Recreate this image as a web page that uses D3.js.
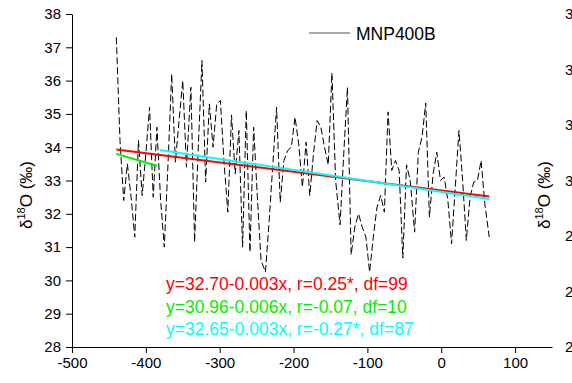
<!DOCTYPE html>
<html>
<head>
<meta charset="utf-8">
<script src="https://cdn.jsdelivr.net/npm/d3@7"></script>
<style>
  html, body { margin: 0; padding: 0; background: #fff; overflow: hidden; }
  svg { display: block; font-family: "Liberation Sans", Arial, sans-serif; }
</style>
</head>
<body>
<svg id="chart" width="572" height="383"></svg>
<script>
// years (x) and d18O values of the MNP400B record
var years = [
  -440,-435,-430,-425,-420,-415,-410,-405,-400,-395,-390,-385,-380,-375,-370,-365,-360,-355,-350,-345,
  -339,-334,-329,-324,-319,-314,-309,-304,-299,-294,-289,-284,-279,-274,-269,-264,-259,-254,-249,-244,
  -238,-233,-228,-223,-218,-213,-208,-203,-198,-193,-188,-183,-178,-173,-168,-163,-158,-153,-148,-143,
  -137,-132,-127,-122,-117,-112,-107,-102,-97,-92,-87,-82,-77,-72,-67,-62,-57,-52,-47,-42,
  -36,-31,-26,-21,-16,-11,-6,-1,4,9,14,19,24,29,34,39,44,49,54,59,
  65
];
var d18O = [
  37.3,34.2,32.4,33.5,32.5,31.3,34.2,32.55,33.8,35.2,32.5,34.6,32.4,31.0,33.5,36.2,33.55,34.8,36.0,33.4,
  35.8,31.15,34.0,36.6,32.95,35.3,34.0,35.3,35.4,33.5,32.05,34.97,33.2,34.5,31.0,35.1,30.85,34.6,32.5,30.6,
  30.25,31.8,33.5,35.2,32.35,33.6,33.9,34.0,34.9,34.1,32.8,34.15,32.55,33.8,34.8,34.6,34.0,33.47,36.23,33.0,
  31.67,33.8,35.8,30.77,31.6,32.0,31.6,31.3,30.25,31.3,32.2,32.55,32.05,35.06,33.3,33.6,33.3,30.67,33.47,33.0,
  31.45,33.85,34.3,35.33,31.9,33.2,33.85,33.0,33.1,32.4,31.1,32.8,34.5,33.0,31.2,32.5,32.95,33.0,33.6,32.3,
  31.3
];

// linear fits
var fitColors     = ["#ff0000", "#00ee00", "#00ffff"];
var fitIntercepts = [32.70, 30.94, 32.656];
var fitSlopes     = [-0.0028, -0.0065, -0.0033];
var fitFrom       = [-440, -440, -381];
var fitTo         = [65, -385, 65];
var fitLabels = [
  "y=32.70-0.003x, r=0.25*, df=99",
  "y=30.96-0.006x, r=-0.07, df=10",
  "y=32.65-0.003x, r=-0.27*, df=87"
];

var xTicks = [-500, -400, -300, -200, -100, 0, 100];
var xMinor = [-450, -350, -250, -150, -50, 50, 150];
var yTicks = [28, 29, 30, 31, 32, 33, 34, 35, 36, 37, 38];
var yMinor = [28.5, 29.5, 30.5, 31.5, 32.5, 33.5, 34.5, 35.5, 36.5, 37.5];
// tick labels of the neighbouring panel (cut off at the right edge)
var nextTicks = [24, 26, 28, 30, 32, 34, 36];

var svg = d3.select("#chart");

var x = d3.scaleLinear().domain([-500, 150]).range([72, 552]);
var y = d3.scaleLinear().domain([28, 38]).range([347, 14]);
var yNext = d3.scaleLinear().domain([24, 36]).range([347, 14]);

var plain = function(d) { return String(d); }; // hyphen minus, like the original

// axes
var gx = svg.append("g").attr("transform", "translate(0,347)");
gx.call(d3.axisBottom(x).tickValues(xMinor).tickSize(4).tickFormat("").tickSizeOuter(0));
gx.call(d3.axisBottom(x).tickValues(xTicks).tickSize(6).tickSizeOuter(0).tickPadding(4).tickFormat(plain));

var gy = svg.append("g").attr("transform", "translate(72,0)");
gy.call(d3.axisLeft(y).tickValues(yMinor).tickSize(4).tickFormat("").tickSizeOuter(0));
gy.call(d3.axisLeft(y).tickValues(yTicks).tickSize(6).tickSizeOuter(0).tickPadding(5).tickFormat(plain));

svg.selectAll(".tick text")
  .attr("font-size", 15)
  .attr("font-family", "Liberation Sans, Arial, sans-serif")
  .attr("fill", "#000");
svg.selectAll(".domain, .tick line").attr("stroke", "#000");

// data line
var line = d3.line()
  .x(function(d, i) { return x(years[i]); })
  .y(function(d) { return y(d); });

svg.append("path")
  .datum(d18O)
  .attr("d", line)
  .attr("fill", "none")
  .attr("stroke", "#000")
  .attr("stroke-width", 1)
  .attr("stroke-dasharray", "7,3");

// fitted lines
fitColors.forEach(function(c, k) {
  var f = function(v) { return fitIntercepts[k] + fitSlopes[k] * v; };
  svg.append("line")
    .attr("x1", x(fitFrom[k])).attr("y1", y(f(fitFrom[k])))
    .attr("x2", x(fitTo[k])).attr("y2", y(f(fitTo[k])))
    .attr("stroke", c)
    .attr("stroke-width", 2);
});

// fit labels
fitLabels.forEach(function(t, k) {
  svg.append("text")
    .attr("x", 166)
    .attr("y", 290 + k * 22.5)
    .attr("font-size", 17.5)
    .attr("fill", fitColors[k])
    .text(t);
});

// legend
svg.append("line")
  .attr("x1", 309).attr("x2", 350).attr("y1", 33).attr("y2", 33)
  .attr("stroke", "#555").attr("stroke-width", 1);
svg.append("text")
  .attr("x", 356).attr("y", 39.5)
  .attr("font-size", 17.5)
  .text("MNP400B");

// y axis titles
function yTitle(xPos) {
  var t = svg.append("text")
    .attr("transform", "translate(" + xPos + ",195) rotate(-90)")
    .attr("text-anchor", "middle")
    .attr("font-size", 17);
  t.append("tspan").text("\u03B4");
  t.append("tspan").attr("font-size", 11).attr("dy", -7).text("18");
  t.append("tspan").attr("dy", 7).text("O (\u2030)");
}
yTitle(32);
yTitle(550);

// neighbouring panel tick labels
svg.selectAll(".next")
  .data(nextTicks)
  .enter().append("text")
  .attr("class", "next")
  .attr("x", 565)
  .attr("y", function(d) { return yNext(d) + 5; })
  .attr("font-size", 15)
  .text(function(d) { return d; });
</script>
</body>
</html>
